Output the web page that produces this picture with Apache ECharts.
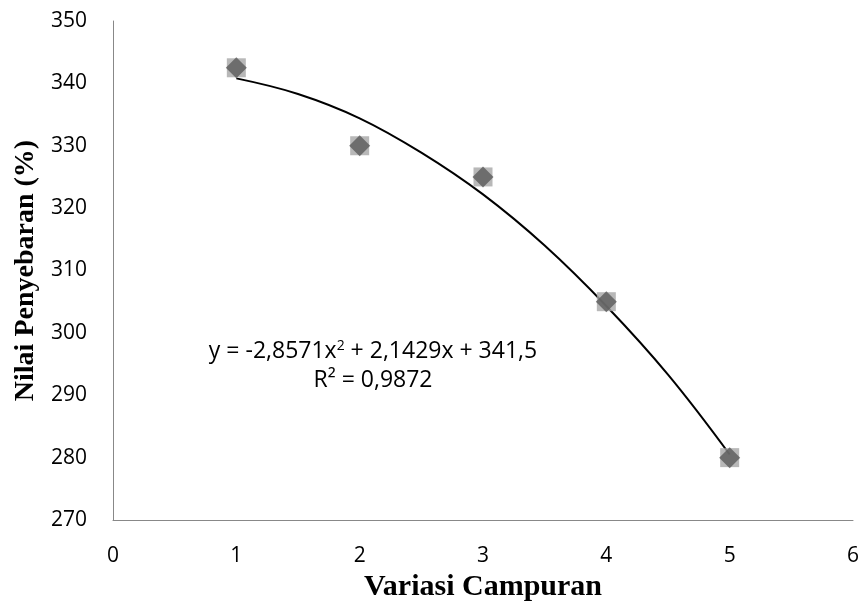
<!DOCTYPE html>
<html>
<head>
<meta charset="utf-8">
<script src="https://cdn.jsdelivr.net/npm/echarts@6/dist/echarts.min.js"></script>
<style>
  html, body { margin: 0; padding: 0; background: #fff; }
  #chart { width: 863px; height: 607px; }
</style>
</head>
<body>
<div id="chart"></div>
<script>
// measured points
var variasi = [1, 2, 3, 4, 5];
var nilai = [342.5, 330, 325, 305, 280];
// trendline
var trendX = [1, 1.5, 2, 2.5, 3, 3.5, 4, 4.5, 5];
var trendY = [340.8, 338.3, 334.4, 328.9, 322.2, 314.0, 304.3, 293.3, 280.5];
var eqLine1 = 'y = -2,8571x{sup|2} + 2,1429x + 341,5';
var eqLine2 = 'R² = 0,9872';

var chart = echarts.init(document.getElementById('chart'));

var pts = variasi.map(function (x, i) { return [x, nilai[i]]; });
var trend = trendX.map(function (x, i) { return [x, trendY[i]]; });

var labelFont = 'Open Sans, Liberation Sans, sans-serif';
var titleFont = 'Liberation Serif, Times New Roman, serif';

var option = {
  animation: false,
  grid: { left: 113, right: 10, top: 21, bottom: 85 },
  xAxis: {
    type: 'value',
    min: 0, max: 6, interval: 1,
    name: 'Variasi Campuran',
    nameLocation: 'middle',
    nameGap: 52,
    nameTextStyle: { fontFamily: titleFont, fontWeight: 'bold', fontSize: 30, color: '#000' },
    axisLine: { lineStyle: { color: '#888', width: 1 } },
    axisTick: { show: false },
    splitLine: { show: false },
    axisLabel: { fontFamily: labelFont, fontSize: 21, color: '#000', margin: 26 }
  },
  yAxis: {
    type: 'value',
    min: 270, max: 350, interval: 10,
    name: 'Nilai Penyebaran (%)',
    nameLocation: 'middle',
    nameGap: 70,
    nameRotate: 90,
    nameTextStyle: { fontFamily: titleFont, fontWeight: 'bold', fontSize: 28, color: '#000' },
    axisLine: { show: true, lineStyle: { color: '#888', width: 1 } },
    axisTick: { show: false },
    splitLine: { show: false },
    axisLabel: { fontFamily: labelFont, fontSize: 21, color: '#000', margin: 26 }
  },
  series: [
    {
      type: 'line',
      data: trend,
      smooth: 0.4,
      showSymbol: false,
      lineStyle: { color: '#000', width: 2 },
      z: 1
    },
    {
      type: 'scatter',
      data: pts,
      symbol: 'rect',
      symbolSize: 19,
      itemStyle: { color: '#a6a6a6' },
      z: 2
    },
    {
      type: 'scatter',
      data: pts,
      symbol: 'diamond',
      symbolSize: 21,
      itemStyle: { color: '#5a5a5a' },
      z: 3
    }
  ],
  graphic: [
    {
      type: 'text',
      x: 373, y: 351,
      style: {
        text: eqLine1,
        font: '23px ' + labelFont,
        fill: '#000',
        align: 'center',
        verticalAlign: 'middle',
        rich: { sup: { fontSize: 14, verticalAlign: 'top', padding: [0, 0, 10, 0], fontFamily: labelFont } }
      }
    },
    {
      type: 'text',
      x: 373, y: 380,
      style: {
        text: eqLine2,
        font: '23px ' + labelFont,
        fill: '#000',
        align: 'center',
        verticalAlign: 'middle'
      }
    }
  ]
};
chart.setOption(option);
</script>
</body>
</html>
